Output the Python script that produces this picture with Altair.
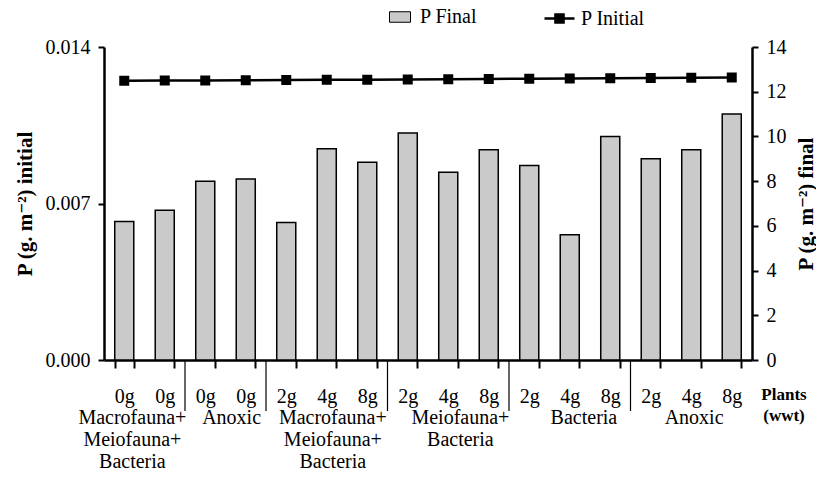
import json
import altair as alt
import pandas as pd

FONT = "'Liberation Serif', 'Times New Roman', Times, 'DejaVu Serif', serif"

# ---- data ----
plants = ["0g", "0g", "0g", "0g", "2g", "4g", "8g", "2g", "4g", "8g",
          "2g", "4g", "8g", "2g", "4g", "8g"]
p_final = [6.2, 6.7, 8.0, 8.1, 6.15, 9.45, 8.85, 10.15, 8.4, 9.4,
           8.7, 5.6, 10.0, 9.0, 9.4, 11.0]
p_initial = [0.01249, 0.01250, 0.01250, 0.01251, 0.01252, 0.01254, 0.01254, 0.01255,
             0.01256, 0.01257, 0.01258, 0.01259, 0.01260, 0.01261, 0.01263, 0.01264]
group_labels = ["Macrofauna+\nMeiofauna+\nBacteria", "Anoxic",
                "Macrofauna+\nMeiofauna+\nBacteria", "Meiofauna+\nBacteria",
                "Bacteria", "Anoxic"]
group_pos = [0.7, 3.15, 5.65, 8.8, 11.85, 14.57]
separator_pos = [2, 4, 7, 10, 13]
left_ticks = [0, 0.007, 0.014]
right_ticks = [0, 2, 4, 6, 8, 10, 12, 14]

df = pd.DataFrame({
    "idx": list(range(len(plants))),
    "final": p_final,
    "initial": p_initial,
    "sf": "P Final",
    "si": "P Initial",
})

label_expr = json.dumps(plants) + "[datum.value]"
qx = alt.Scale(domain=[0, 16], nice=False, zero=False)

bars = alt.Chart(df).mark_bar(stroke="black", strokeWidth=1.5).encode(
    x=alt.X("idx:O",
            scale=alt.Scale(type="band", paddingInner=0.53, paddingOuter=0.265),
            axis=alt.Axis(title=None, labelExpr=label_expr, labelAngle=0,
                          tickBand="extent", tickSize=8, labelFontSize=20,
                          labelPadding=18)),
    y=alt.Y("final:Q", scale=alt.Scale(domain=[0, 14], nice=False),
            axis=alt.Axis(orient="right", values=right_ticks, format="d",
                          title="P (g. m⁻²) final", titleAngle=270,
                          titleBaseline="top",
                          titleFontSize=21, titleFontWeight="bold",
                          titlePadding=9, labelFontSize=20, tickSize=6,
                          labelPadding=8)),
    fill=alt.Fill("sf:N", scale=alt.Scale(domain=["P Final"], range=["#cacaca"]),
                  legend=alt.Legend(title=None, orient="none", legendX=285, legendY=-41,
                                    symbolType="M-1,-0.5H1V0.5H-1Z", symbolSize=441,
                                    symbolStrokeColor="black", symbolStrokeWidth=1,
                                    labelFontSize=20, labelOffset=9, labelLimit=300,
                                    padding=0)),
)

line = alt.Chart(df).mark_line(
    color="black", strokeWidth=2.5,
    point=alt.OverlayMarkDef(shape="square", size=64, filled=True, color="black"),
).encode(
    x=alt.X("idx:O", scale=alt.Scale(type="point", padding=0.5), axis=None),
    y=alt.Y("initial:Q", scale=alt.Scale(domain=[0, 0.014], nice=False),
            axis=alt.Axis(orient="left", values=left_ticks, format=".3f",
                          title="P (g. m⁻²) initial", titleFontSize=21,
                          titleFontWeight="bold", titlePadding=10,
                          labelFontSize=20, tickSize=6, labelPadding=8)),
    stroke=alt.Stroke("si:N", scale=alt.Scale(domain=["P Initial"], range=["black"]),
                      legend=alt.Legend(title=None, orient="none", legendX=439, legendY=-45,
                                        symbolType="M-1,0H1M-0.27,-0.27H0.27V0.27H-0.27Z",
                                        symbolSize=900, symbolStrokeWidth=2.5,
                                        symbolFillColor="black", symbolStrokeColor="black",
                                        labelFontSize=20, labelOffset=5, labelLimit=300,
                                        padding=0)),
)

seps = alt.Chart(pd.DataFrame({"pos": separator_pos})).mark_rule(
    color="black", strokeWidth=1.2
).encode(
    x=alt.X("pos:Q", scale=qx, axis=None),
    y=alt.value(313),
    y2=alt.value(364),
)

groups = alt.Chart(pd.DataFrame({"pos": group_pos, "label": group_labels})).mark_text(
    font=FONT, fontSize=20, baseline="alphabetic", align="center",
    lineBreak="\n", lineHeight=22, color="black"
).encode(
    x=alt.X("pos:Q", scale=qx, axis=None),
    y=alt.value(377),
    text="label:N",
)

plants_title = alt.Chart(pd.DataFrame({"pos": [16.79], "label": ["Plants\n(wwt)"]})).mark_text(
    font=FONT, fontSize=17, fontWeight="bold", baseline="alphabetic", align="center",
    lineBreak="\n", lineHeight=21, color="black"
).encode(
    x=alt.X("pos:Q", scale=qx, axis=None),
    y=alt.value(353),
    text="label:N",
)

chart = alt.layer(bars, line, seps, groups, plants_title).resolve_scale(
    x="independent", y="independent", fill="independent", stroke="independent"
).properties(
    width=648, height=313,
    padding={"left": 96, "top": 39, "right": 64, "bottom": 112},
    autosize=alt.AutoSizeParams(type="none"),
).configure_view(stroke=None).configure_axis(
    labelFont=FONT, titleFont=FONT, labelColor="black", titleColor="black",
    domainColor="black", tickColor="black", domainWidth=2.5, tickWidth=2, grid=False,
).configure_legend(
    labelFont=FONT, labelColor="black",
)

chart.save("out.html", embed_options={"renderer": "svg", "actions": False})
